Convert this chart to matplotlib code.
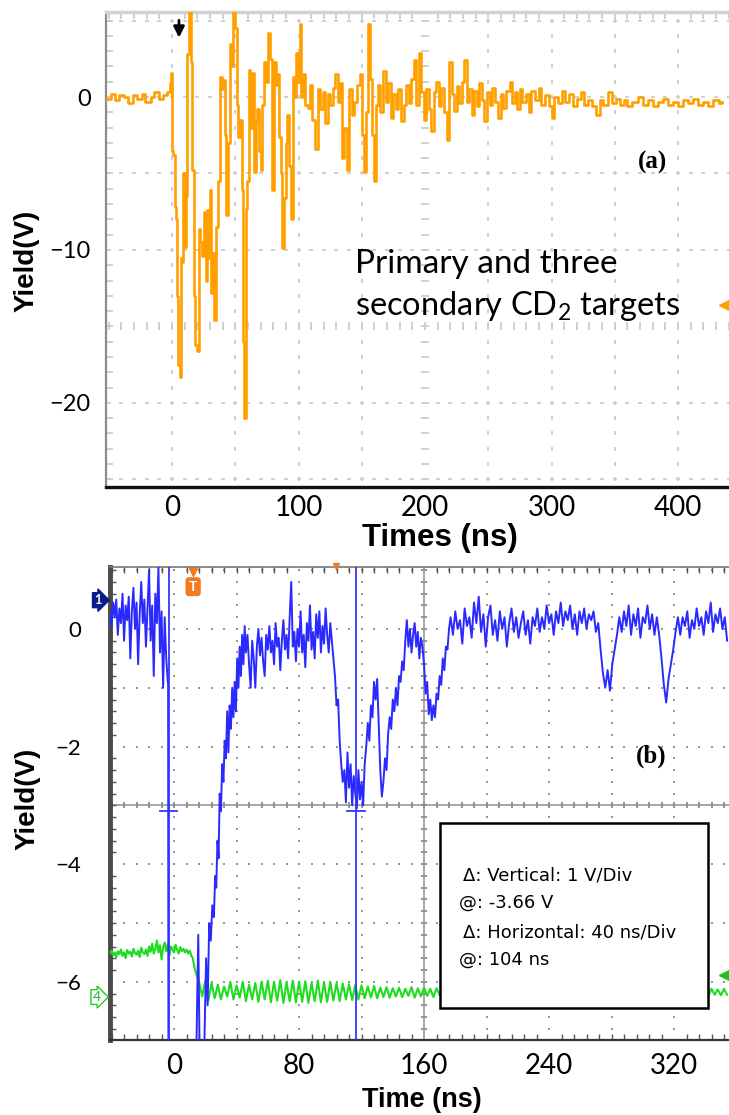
import numpy as np
import matplotlib
matplotlib.use("Agg")
from matplotlib import pyplot as plt
from matplotlib.ticker import MultipleLocator
from matplotlib.transforms import blended_transform_factory

plt.rcParams["font.family"] = ["Lato", "DejaVu Sans"]
plt.rcParams["mathtext.fontset"] = "custom"
plt.rcParams["mathtext.rm"] = "Lato"
plt.rcParams["mathtext.default"] = "regular"

# ---------------- (a) primary + three secondary CD2 targets ----------------
orange_t = [-52, -48, -45, -42, -38, -35, -31, -28, -24, -21,
            -17, -14, -10, -7, -4, -2, -0.5,
            0.0, 1.0, 2.0, 3.0, 4.0, 5.0, 6.0, 7.0, 8.0, 9.0,
            10.0, 11.0, 12.0, 13.5, 15.0, 16.0, 17.0, 18.0, 19.5, 21.0,
            22.5, 24.0, 25.0, 26.5, 27.5, 29.0, 30.0, 31.0, 32.5, 33.5,
            35.0, 36.5, 38.0, 39.5, 40.5, 42.0, 43.0, 44.5, 45.8, 47.0,
            48.4, 50.0, 51.0, 52.0, 53.5, 55.0, 56.0, 57.0, 58.2, 59.2,
            60.5, 62.0, 63.0, 64.5, 66.0, 67.0, 68.5, 70.0, 71.5, 73.0,
            74.5, 76.0, 77.5, 79.0, 80.5, 82.0, 83.5, 84.5, 86.0, 87.0,
            88.5, 90.0, 91.0, 92.5, 94.0, 95.5, 97.0, 98.0, 99.5, 101.0,
            102.0, 103.5, 105.0, 107.5, 109.0, 111.0, 113.0, 115.0, 117.0, 119.0,
            121.0, 123.0, 125.0, 127.0, 129.0, 131.0, 132.5, 134.0, 136.0, 138.0,
            140.0, 142.0, 144.0, 146.0, 148.5, 150.0, 151.5, 153.0, 155.0, 156.5,
            158.0, 159.5, 161.0, 162.5, 164.5, 167.0, 169.0, 171.0, 173.0, 175.0,
            177, 179, 181, 183, 185, 187, 189, 191, 193, 195,
            197, 199, 201, 203, 205, 207, 209, 211, 213, 215,
            217, 219, 221, 223, 225, 227, 229, 231, 233, 235,
            237, 239, 241, 243, 245, 247, 249, 251, 253, 255,
            258, 260, 262, 264, 267, 269, 271, 273, 275, 277,
            280, 282, 284, 287, 290, 292, 295, 298, 300, 302,
            305, 308, 311, 314, 317, 320, 323, 326, 329, 332,
            335, 338, 341, 345, 348, 351, 354, 357, 360, 364,
            368, 372, 376, 380, 384, 388, 392, 396, 400, 404,
            408, 412, 416, 420, 424, 428, 432, 435]
orange_v = [-0.1, 0.2, -0.2, 0.1, 0.0, -0.4, 0.1, -0.1, 0.2, -0.3,
            0.0, 0.3, -0.1, 0.1, 0.3, 0.9, 1.6,
            -3.5, -3.8, -7.2, -8.0, -13.0, -17.5, -18.3, -10.5, -10.8, -5.0,
            -9.8, -6.5, 2.8, 5.8, 2.3, -4.8, -13.0, -16.2, -16.6, -8.6,
            -9.5, -10.4, -7.5, -12.0, -7.4, -10.5, -6.1, -12.8, -10.2, -14.6,
            -8.5, -5.5, 1.3, 0.5, 1.1, -2.5, -7.7, -3.0, 3.5, 2.0,
            5.8, 4.5, -0.5, -2.6, -1.5, -6.1, -16.0, -21.0, -7.3, -5.5,
            1.8, -2.0, 1.6, -4.9, -1.5, -0.8, -3.5, -4.8, -0.5, 2.3,
            1.0, 4.2, 2.5, -6.1, 2.3, 0.8, 1.5, -2.6, -5.0, -9.9,
            -6.6, -3.0, -1.2, -4.5, -8.0, 1.3, 0.0, 2.9, 1.0, 4.8,
            0.0, 1.5, -0.5, -0.7, 0.8, -1.5, -3.4, 0.5, -0.8, 0.3,
            -1.7, 0.2, -0.5, 0.6, 1.5, -0.3, 0.9, -4.0, -2.0, -4.8,
            0.5, -1.2, -0.3, 0.8, 1.5, -2.5, -4.9, -1.0, 4.8, 1.2,
            -2.5, -5.5, -0.5, 0.8, -1.0, 1.7, -0.3, 0.9, -1.4, 0.2,
            -0.8, 0.5, -1.6, -0.5, 0.8, -0.4, 1.2, 2.4, -0.5, 2.9,
            0.3, -1.5, 0.5, -0.8, -2.2, 0.3, 1.0, -0.6, 0.6, -1.0,
            -2.8, 2.3, 0.2, -0.9, 0.7, -0.4, 1.0, 2.4, -0.3, 0.5,
            -1.2, 0.4, -0.6, 0.9, -0.2, -1.6, 0.3, -0.5, 0.6, -0.3,
            -1.4, 0.2, -0.7, 0.4, 1.0, -0.4, 0.3, -0.8, 0.5, -0.3,
            0.2, -1.0, 0.4, -0.2, 0.6, -0.5, 0.1, -0.6, -1.4, 0.0,
            -0.4, 0.4, -0.3, 0.2, -0.6, -0.1, 0.3, -0.5, -0.2, -0.6,
            -1.2, -0.2, -0.5, 0.3, -0.4, -0.1, -0.5, -0.2, -0.6, -0.3,
            0.0, -0.5, -0.2, -0.6, -0.3, -0.1, -0.5, -0.3, -0.6, -0.2,
            -0.4, -0.1, -0.5, -0.3, -0.6, -0.2, -0.4, -0.3]

# ---------------- (b) scope capture, channel 1 (blue) and 4 (green) ----------------
blue_pre_t0, blue_pre_dt = -41.0, 1.0
blue_pre_v = [0.3, 0.05, 0.45, 0.2, 0.5, -0.1, 0.35, 0.1, 0.6, -0.2,
              0.4, 0.15, 0.55, -0.5, 0.3, 0.7, 0.0, 0.45, -0.6, 0.25,
              0.8, 0.1, 0.5, -0.3, 0.35, 1.0, -0.2, 0.4, -0.8, 0.6,
              0.1, 1.05, -0.4, 0.3, -1.0, 0.2, -0.5, -0.9]
blue_rise_t = [-3.8, -3.6, 14.0, 15.5, 16.5, 19.0, 20.5, 21.5, 22.5, 23.5,
               24.5, 25.5, 26.3, 27.0, 27.8, 28.5, 29.2, 30.0, 30.8, 31.6,
               32.4, 33.2, 34.0, 34.8, 35.6, 36.4, 37.2, 38.0, 38.8, 39.6,
               40.4, 41.2, 42.0, 42.8, 43.6, 44.4, 45.2]
blue_rise_v = [-0.9, -7.6, -7.6, -5.2, -7.6, -7.6, -5.6, -6.4, -5.0, -5.3,
               -4.7, -4.9, -4.2, -4.4, -3.6, -3.9, -2.8, -3.1, -2.3, -2.6,
               -1.9, -2.2, -1.4, -2.1, -1.3, -1.7, -1.0, -1.5, -0.9, -1.4,
               -0.5, -1.0, -0.3, -0.8, -0.1, -0.6, 0.05]
blue_mid_t0, blue_mid_dt = 46.0, 1.0
blue_mid_v = [-0.4, -0.1, -0.6, -1.0, -0.2, -0.5, -1.0, -0.3, 0.0, -0.45,
              -0.15, -0.55, -0.8, -0.1, -0.35, 0.05, -0.4, -0.2, -0.6, 0.1,
              -0.3, -0.15, -0.7, -0.2, 0.15, -0.35, -0.1, -0.5, 0.2, 0.8,
              -0.3, -0.05, -0.55, 0.0, -0.3, 0.3, -0.4, -0.1, -0.65, 0.1,
              -0.2, 0.4, -0.35, -0.05, -0.5, 0.25, -0.15, 0.3, -0.4, 0.05,
              -0.25, 0.35, -0.1, -0.4, 0.1, -0.2, -0.5, -0.8, -1.3, -1.2,
              -1.9, -2.3, -2.6, -2.4, -2.95, -2.1, -2.7, -2.3, -3.0, -2.5,
              -2.8, -3.05, -2.4, -2.9, -2.6, -3.0, -2.3, -2.0, -1.6, -1.9,
              -1.3, -1.5, -0.9, -1.2, -0.85, -1.6, -2.4, -2.85, -2.6, -2.2,
              -2.4, -1.8, -1.5, -1.7, -1.2, -1.4, -1.0, -1.3, -0.8, -0.9,
              -0.55, -0.7, -0.2, 0.15, -0.3, 0.0, -0.4, -0.1, 0.1, -0.3,
              -0.05, -0.5, -0.15, -0.3, -0.6, -1.1, -0.9, -1.45, -1.2, -1.55,
              -1.3, -1.5, -1.1, -1.2, -0.8, -0.95, -0.5, -0.7, -0.3, -0.35, 0.0]
blue_late_t0, blue_late_dt = 177.0, 1.5
blue_late_v = [0.2, -0.1, 0.3, 0.0, 0.15, -0.25, 0.35, 0.05, 0.2, -0.15,
               0.45, 0.1, 0.55, -0.05, 0.25, -0.3, 0.2, 0.4, -0.1, 0.15,
               -0.2, 0.3, 0.0, 0.2, -0.3, 0.1, 0.35, -0.05, 0.2, -0.15,
               0.1, 0.3, -0.1, 0.15, -0.25, 0.2, 0.05, 0.35, -0.05, 0.2,
               0.0, 0.4, 0.1, 0.25, -0.1, 0.3, 0.1, 0.45, 0.05, 0.3,
               0.15, 0.4, 0.0, 0.25, -0.1, 0.3, 0.1, 0.35, 0.0, 0.25,
               0.15, 0.3, -0.05, 0.1, -0.35, -0.75, -1.0, -0.7, -1.05, -0.6,
               -0.35, -0.1, 0.2, -0.05, 0.3, 0.05, 0.4, -0.1, 0.25, 0.05,
               0.35, -0.15, 0.2, 0.1, 0.4, 0.0, 0.25, -0.1, 0.2, -0.1,
               -0.5, -0.95, -1.25, -0.85, -0.6, -0.35, -0.05, 0.2, -0.1, 0.2,
               0.05, 0.3, -0.15, 0.15, 0.0, 0.35, 0.05, 0.2, -0.1, 0.3,
               0.1, 0.45, -0.05, 0.25, 0.1, 0.35, 0.0, 0.2, -0.2]

green_pre_t0, green_pre_dt = -41.0, 1.0
green_pre_v = [-5.52, -5.47, -5.55, -5.50, -5.58, -5.48, -5.53, -5.45, -5.56, -5.50,
               -5.60, -5.46, -5.52, -5.49, -5.57, -5.44, -5.51, -5.54, -5.47, -5.58,
               -5.42, -5.50, -5.53, -5.45, -5.56, -5.40, -5.49, -5.35, -5.52, -5.44,
               -5.30, -5.50, -5.38, -5.62, -5.42, -5.33, -5.48, -5.36, -5.55, -5.40,
               -5.45, -5.50, -5.37, -5.46, -5.52, -5.41, -5.48, -5.44, -5.50, -5.45,
               -5.52, -5.47, -5.55, -5.60, -5.75]
green_post_t0, green_post_dt = 14.0, 2.0
green_post_v = [-5.85, -6.00, -6.25, -5.98, -6.32, -6.02, -6.28, -6.05, -6.30, -6.08,
                -6.25, -6.00, -6.30, -6.06, -6.27, -6.00, -6.33, -6.05, -6.30, -6.02,
                -6.34, -6.00, -6.30, -5.98, -6.35, -6.00, -6.32, -5.97, -6.36, -6.01,
                -6.33, -5.98, -6.35, -6.00, -6.34, -5.99, -6.36, -6.02, -6.33, -5.98,
                -6.35, -6.01, -6.34, -6.00, -6.32, -6.02, -6.33, -6.03, -6.30, -6.04,
                -6.31, -6.05, -6.30, -6.06, -6.28, -6.08, -6.27, -6.07, -6.28, -6.10,
                -6.26, -6.09, -6.27, -6.11, -6.25, -6.10, -6.26, -6.12, -6.24, -6.09,
                -6.27, -6.11, -6.25, -6.10, -6.24, -6.12, -6.26, -6.11, -6.23, -6.10,
                -6.25, -6.12, -6.24, -6.11, -6.26, -6.13, -6.23, -6.11, -6.25, -6.12,
                -6.22, -6.10, -6.24, -6.13, -6.25, -6.11, -6.22, -6.12, -6.24, -6.10,
                -6.23, -6.12, -6.25, -6.13, -6.22, -6.11, -6.24, -6.12, -6.23, -6.10,
                -6.22, -6.13, -6.24, -6.11, -6.23, -6.12, -6.25, -6.13, -6.22, -6.11,
                -6.24, -6.12, -6.23, -6.10, -6.22, -6.13, -6.24, -6.11, -6.23, -6.12,
                -6.22, -6.13, -6.24, -6.12, -6.21, -6.11, -6.23, -6.13, -6.22, -6.12,
                -6.24, -6.13, -6.22, -6.11, -6.23, -6.12, -6.21, -6.13, -6.24, -6.12,
                -6.22, -6.11, -6.23, -6.13, -6.22, -6.12, -6.24, -6.13, -6.21, -6.12,
                -6.23, -6.11, -6.22, -6.13, -6.24, -6.12, -6.22, -6.13, -6.23, -6.12, -6.22]

cursor_t = [-3.5, 116.5]
cursor_v = -3.1
trigger_t = 12.2

ticks_a_x = [0, 100, 200, 300, 400]
ticks_a_y = [0, -10, -20]
ticks_b_x = [0, 80, 160, 240, 320]
ticks_b_y = [0, -2, -4, -6]
box_lines = ["\u0394: Vertical: 1 V/Div", "@: -3.66 V",
             "\u0394: Horizontal: 40 ns/Div", "@: 104 ns"]

ORANGE = "#ffa000"
BLUE = "#2a2aff"
GREEN = "#1edc1e"


def graticule(ax, xlines, ylines, xdot, ydot, xc, yc, col, ms):
    # scope-style dotted grid, the centre lines carry perpendicular ticks
    x0, x1 = ax.get_xlim()
    y0, y1 = ax.get_ylim()
    xs = np.arange(np.ceil(x0 / xdot) * xdot, x1, xdot)
    ys = np.arange(np.ceil(y0 / ydot) * ydot, y1, ydot)
    for yv in ylines:
        big = abs(yv - yc) < 1e-9
        ax.plot(xs, np.full(len(xs), yv), ls="none", marker="|" if big else "_",
                ms=ms * (2.4 if big else 1), mew=1.3, color=col, zorder=1)
    for xv in xlines:
        big = abs(xv - xc) < 1e-9
        ax.plot(np.full(len(ys), xv), ys, ls="none", marker="_" if big else "|",
                ms=ms * (2.4 if big else 1), mew=1.3, color=col, zorder=1)


fig = plt.figure(figsize=(7.29, 11.15), dpi=100)
W, H = 729.0, 1115.0

# ================= panel (a) =================
ax1 = fig.add_axes([106 / W, 1 - 487 / H, 1 - 106 / W, (487 - 12) / H])
ax1.set_xlim(-52.2, 440.3)
ax1.set_ylim(-25.5, 5.56)
graticule(ax1, np.arange(0, 450, 50), np.arange(-25, 6, 5), 10, 1, 200, -15, "#cdcdcd", 2.2)
ax1.step(orange_t, orange_v, where="post", color=ORANGE, lw=1.9, zorder=3)

ax1.set_xticks(ticks_a_x)
ax1.set_yticks(ticks_a_y)
ax1.xaxis.set_minor_locator(MultipleLocator(10))
ax1.yaxis.set_minor_locator(MultipleLocator(1))
ax1.tick_params(which="major", length=0)
ax1.tick_params(axis="x", which="major", labelsize=20, pad=6)
ax1.tick_params(axis="y", which="major", labelsize=17, pad=11)
ax1.tick_params(which="minor", direction="in", length=5, width=1.2, color="#c8c8c8",
                top=True, bottom=False, left=True, right=False)
ax1.spines["right"].set_visible(False)
ax1.spines["left"].set_color("#8c8c8c")
ax1.spines["left"].set_linewidth(1.6)
ax1.spines["bottom"].set_color("#111111")
ax1.spines["bottom"].set_linewidth(2.4)
ax1.spines["top"].set_color("#d2d2d2")
ax1.spines["top"].set_linewidth(2.5)

ax1.set_xlabel("Times (ns)", fontfamily="Liberation Sans", fontweight="bold",
               fontsize=22.5, va="center")
ax1.xaxis.set_label_coords(0.536, -0.107)
ax1.set_ylabel("Yield(V)", fontfamily="Liberation Sans", fontweight="bold",
               fontsize=20, va="center")
ax1.yaxis.set_label_coords(-0.127, 0.476)

ax1.text(0.40, 0.4505, "Primary and three", transform=ax1.transAxes,
         fontsize=24, va="baseline", ha="left")
ax1.text(0.40, 0.362, "secondary CD$_2$ targets", transform=ax1.transAxes,
         fontsize=23.5, va="baseline", ha="left")
ax1.text(0.854, 0.684, "(a)", transform=ax1.transAxes, fontfamily="Liberation Serif",
         fontweight="bold", fontsize=18, va="center", ha="left")
ax1.annotate("", xy=(5.5, 3.7), xytext=(5.5, 5.2),
             arrowprops=dict(arrowstyle="-|>", color="black", lw=2, mutation_scale=16),
             annotation_clip=False)
ax1.plot([437], [-13.6], marker="<", ms=9, color=ORANGE, clip_on=False, zorder=4)

# ================= panel (b) =================
ax2 = fig.add_axes([110 / W, 1 - 1040 / H, 1 - 110 / W, (1040 - 567) / H])
ax2.set_xlim(-41.0, 355.2)
ax2.set_ylim(-6.99, 1.054)
graticule(ax2, np.arange(-40, 360, 40), np.arange(-6, 2, 1), 8, 0.2, 160, -3, "#8c8c8c", 1.8)
ax2.axhline(-3, color="#8f8f8f", lw=1.1, zorder=1)
ax2.axvline(160, color="#8f8f8f", lw=1.1, zorder=1)

green_t = np.concatenate([green_pre_t0 + green_pre_dt * np.arange(len(green_pre_v)),
                          green_post_t0 + green_post_dt * np.arange(len(green_post_v))])
green_v = np.concatenate([green_pre_v, green_post_v])
ax2.plot(green_t, green_v, color=GREEN, lw=1.5, zorder=3)

blue_t = np.concatenate([blue_pre_t0 + blue_pre_dt * np.arange(len(blue_pre_v)),
                         blue_rise_t,
                         blue_mid_t0 + blue_mid_dt * np.arange(len(blue_mid_v)),
                         blue_late_t0 + blue_late_dt * np.arange(len(blue_late_v))])
blue_v = np.concatenate([blue_pre_v, blue_rise_v, blue_mid_v, blue_late_v])
ax2.plot(blue_t, blue_v, color=BLUE, lw=1.4, zorder=4)

for ct in cursor_t:
    ax2.axvline(ct, color="#3535ff", lw=1.3, zorder=5)
    ax2.plot([ct - 5.5, ct + 5.5], [cursor_v, cursor_v], color="#3535ff", lw=1.3, zorder=5)

ax2.set_xticks(ticks_b_x)
ax2.set_yticks(ticks_b_y)
ax2.xaxis.set_minor_locator(MultipleLocator(8))
ax2.yaxis.set_minor_locator(MultipleLocator(0.2))
ax2.tick_params(which="major", length=0)
ax2.tick_params(axis="x", which="major", labelsize=20, pad=9)
ax2.tick_params(axis="y", which="major", labelsize=16, pad=21)
ax2.tick_params(which="minor", direction="in", length=4, width=1, color="#555555",
                top=True, bottom=True, left=True, right=False)
ax2.spines["right"].set_visible(False)
ax2.spines["left"].set_color("#4a4a4a")
ax2.spines["left"].set_linewidth(3.5)
ax2.spines["bottom"].set_color("#333333")
ax2.spines["bottom"].set_linewidth(1.6)
ax2.spines["top"].set_color("#777777")
ax2.spines["top"].set_linewidth(1.2)

ax2.set_xlabel("Time (ns)", fontfamily="Liberation Sans", fontweight="bold",
               fontsize=19.5, va="center")
ax2.xaxis.set_label_coords(0.504, -0.127)
ax2.set_ylabel("Yield(V)", fontfamily="Liberation Sans", fontweight="bold",
               fontsize=20, va="center")
ax2.yaxis.set_label_coords(-0.1325, 0.5095)

ax2.text(0.85, 0.60, "(b)", transform=ax2.transAxes, fontfamily="Liberation Serif",
         fontweight="bold", fontsize=18, va="center", ha="left")

box = plt.Rectangle((0.533, 0.0677), 0.433, 0.391, transform=ax2.transAxes,
                    fill=True, fc="white", ec="black", lw=1.8, zorder=6)
ax2.add_patch(box)
box_y = [0.347, 0.290, 0.228, 0.169]
box_x = [0.571, 0.564, 0.571, 0.564]
for txt, bx, by in zip(box_lines, box_x, box_y):
    ax2.text(bx, by, txt, transform=ax2.transAxes, fontfamily="DejaVu Sans",
             fontsize=13, va="center", ha="left", zorder=7)

mix = blended_transform_factory(ax2.transAxes, ax2.transData)
ax2.text(-0.02, 0.49, "1", transform=mix, color="white", fontsize=9, fontweight="bold",
         ha="center", va="center", clip_on=False, zorder=8,
         bbox=dict(boxstyle="rarrow,pad=0.12", fc="#0c1c8c", ec="#0c1c8c"))
ax2.text(-0.022, -6.26, "4", transform=mix, color="#22b422", fontsize=10,
         ha="center", va="center", clip_on=False, zorder=8,
         bbox=dict(boxstyle="rarrow,pad=0.1", fc="white", ec="#22cc22", lw=1))
ax2.text(trigger_t, 0.72, "T", color="white", fontsize=10, fontweight="bold",
         ha="center", va="center", zorder=8,
         bbox=dict(boxstyle="round,pad=0.2", fc="#f27a1f", ec="#f27a1f"))
ax2.plot([trigger_t], [0.97], marker="v", ms=6, color="#f27a1f", clip_on=False, zorder=8)
ax2.plot([103.7], [1.07], marker="v", ms=4, color="#f27a1f", clip_on=False, zorder=8)
ax2.plot([352.5], [-5.88], marker="<", ms=9, color="#18c418", clip_on=False, zorder=8)

fig.savefig("out.png", dpi=100)
